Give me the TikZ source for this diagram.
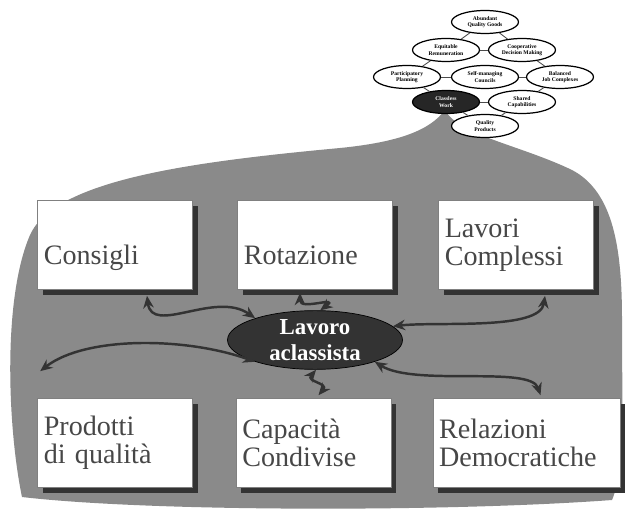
\documentclass[tikz,border=0pt]{standalone}
\usepackage{fontspec}
\setmainfont{Liberation Serif}
\usetikzlibrary{shapes.geometric,shadows,arrows.meta}
\begin{document}
\begin{tikzpicture}[x=0.02cm, y=-0.02cm,
    box/.style={rectangle, draw=black!50, fill=white, minimum width=3.1cm, minimum height=1.78cm, text width=2.85cm, align=left, inner xsep=3pt, font=\fontsize{16}{16}\selectfont, text=black!72, drop shadow={shadow xshift=3pt, shadow yshift=-3pt, opacity=1, fill=black!80}},
    core/.style={ellipse, draw=black, fill=black!80, minimum width=3.5cm, minimum height=1.16cm, align=center, inner sep=0pt, text=white, font=\fontsize{13}{15}\selectfont\bfseries},
    mini/.style={ellipse, draw=black, line width=0.7pt, fill=white, minimum width=1.34cm, minimum height=0.46cm, inner sep=0pt, align=center, font=\fontsize{3.2}{3.6}\selectfont\bfseries},
    link/.style={draw=black!70, line width=0.5pt},
    wave/.style={<->, >={Stealth[length=7pt,width=6pt]}, line width=1.4pt, draw=black!80}
]
\useasboundingbox (0,0) rectangle (625,513);

% textured background
\fill[black!46] (22,497) .. controls (8,430) and (2,300) .. (30,235)
  .. controls (55,180) and (190,162) .. (340,148)
  .. controls (400,142) and (430,130) .. (445,110)
  .. controls (458,135) and (520,145) .. (572,170)
  .. controls (614,192) and (622,250) .. (622,320)
  .. controls (622,400) and (625,470) .. (612,500)
  .. controls (450,512) and (150,512) .. (22,497) -- cycle;

% small diagram
\node[mini] (e1) at (485,22) {Abundant\\Quality Goods};
\node[mini] (e2) at (446,50) {Equitable\\Remuneration};
\node[mini] (e3) at (522,50) {Cooperative\\Decision Making};
\node[mini] (e4) at (407,77) {Participatory\\Planning};
\node[mini] (e5) at (485,77) {Self-managing\\Councils};
\node[mini] (e6) at (560,77) {Balanced\\Job Complexes};
\node[mini, fill=black!85, text=white] (e7) at (446,102) {Classless\\Work};
\node[mini] (e8) at (522,102) {Shared\\Capabilities};
\node[mini] (e9) at (485,126) {Quality\\Products};
\draw[link] (e1) -- (e2);
\draw[link] (e1) -- (e3);
\draw[link] (e2) -- (e3);
\draw[link] (e2) -- (e4);
\draw[link] (e3) -- (e6);
\draw[link] (e4) -- (e5);
\draw[link] (e5) -- (e6);
\draw[link] (e4) -- (e7);
\draw[link] (e6) -- (e8);
\draw[link] (e7) -- (e8);
\draw[link, dashed] (e7) -- (e9);
\draw[link, dashed] (e8) -- (e9);

% boxes
\node[box] (cons) at (115,245) {\strut\\Consigli\strut};
\node[box] (rot) at (315,245) {\strut\\Rotazione\strut};
\node[box] (lav) at (516,245) {Lavori\\Complessi};
\node[box] (prod) at (115,443) {Prodotti\\di qualità};
\node[box] (cap) at (313.5,443) {Capacità\\Condivise};
\node[box, minimum width=3.74cm, text width=3.5cm] (rel) at (526.5,443) {Relazioni\\Democratiche};

\node[core] (cen) at (315,340) {Lavoro\\aclassista};

% wavy links
\draw[wave] ([shift={(32,6)}]cons.south) .. controls +(5,40) and +(-40,-28) .. (cen.160);
\draw[wave] ([shift={(-15,3)}]rot.south) .. controls +(0,18) and +(20,-15) .. (cen.80);
\draw[wave] ([shift={(29,6)}]lav.south) .. controls +(-5,35) and +(45,-5) .. (cen.10);
\draw[wave] ([shift={(3,-27)}]prod.north west) .. controls +(45,-35) and +(-70,-25) .. (cen.200);
\draw[wave] (cen.272) .. controls +(-10,12) and +(10,-12) .. ([shift={(5,-3)}]cap.north);
\draw[wave] (cen.340) .. controls +(40,25) and +(-10,-30) .. ([shift={(14,-3)}]rel.north);
\end{tikzpicture}
\end{document}
